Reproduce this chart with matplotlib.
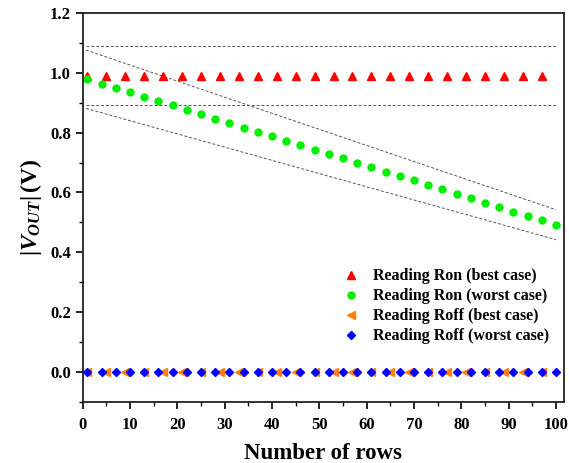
import matplotlib
matplotlib.use("Agg")
import matplotlib.pyplot as plt
from matplotlib.ticker import MultipleLocator

plt.rcParams['font.family'] = 'Liberation Serif'
plt.rcParams['font.weight'] = 'bold'
plt.rcParams['mathtext.fontset'] = 'custom'
plt.rcParams['mathtext.rm'] = 'Liberation Serif:bold'
plt.rcParams['mathtext.it'] = 'Liberation Serif:bold:italic'

# Reading Ron / Roff best case: every 4 rows
rows_best = [1, 5, 9, 13, 17, 21, 25, 29, 33, 37, 41, 45, 49, 53, 57, 61, 65, 69, 73, 77, 81, 85, 89, 93, 97]
ron_best = [0.99] * len(rows_best)
roff_best = [0.0] * len(rows_best)

# Reading Ron / Roff worst case: every 3 rows
rows_worst = [1, 4, 7, 10, 13, 16, 19, 22, 25, 28, 31, 34, 37, 40, 43, 46, 49, 52,
              55, 58, 61, 64, 67, 70, 73, 76, 79, 82, 85, 88, 91, 94, 97, 100]
ron_worst = [0.979, 0.964, 0.950, 0.935, 0.920, 0.905, 0.891, 0.876, 0.861, 0.846,
             0.832, 0.817, 0.802, 0.787, 0.773, 0.758, 0.743, 0.728, 0.714, 0.699,
             0.684, 0.669, 0.654, 0.640, 0.625, 0.610, 0.595, 0.581, 0.566, 0.551,
             0.536, 0.522, 0.507, 0.492]
roff_worst = [0.0] * len(rows_worst)

# guide lines (dashed envelopes)
guide_x = [0.7, 100]
guide_flat_hi = [1.089, 1.089]
guide_flat_lo = [0.891, 0.891]
guide_slope_hi = [1.076, 0.542]
guide_slope_lo = [0.881, 0.442]

fig = plt.figure(figsize=(5.69, 4.63), dpi=100)
ax = fig.add_axes([0.1453, 0.1324, 0.8459, 0.8395])

for gy in (guide_flat_hi, guide_flat_lo, guide_slope_hi, guide_slope_lo):
    ax.plot(guide_x, gy, color='#555555', linestyle=(0, (3, 2)), linewidth=0.7)

ax.plot(rows_best, ron_best, linestyle='none', marker='^', color='red', markersize=5.5,
        label='Reading Ron (best case)')
ax.plot(rows_worst, ron_worst, linestyle='none', marker='o', color='#00ee00', markersize=5,
        label='Reading Ron (worst case)')
ax.plot(rows_best, roff_best, linestyle='none', marker='<', color='#ff7f0e', markersize=5.5,
        label='Reading Roff (best case)')
ax.plot(rows_worst, roff_worst, linestyle='none', marker='D', color='#0000ff', markersize=4.5,
        label='Reading Roff (worst case)')

ax.set_xlim(0, 101.7)
ax.set_ylim(-0.1, 1.2)
ax.xaxis.set_major_locator(MultipleLocator(10))
ax.xaxis.set_minor_locator(MultipleLocator(5))
ax.yaxis.set_major_locator(MultipleLocator(0.2))
ax.yaxis.set_minor_locator(MultipleLocator(0.1))
ax.yaxis.set_major_formatter(matplotlib.ticker.FormatStrFormatter('%.1f'))
ax.tick_params(which='major', direction='out', length=5, width=1.2, labelsize=12)
ax.tick_params(axis='x', which='major', pad=6)
ax.tick_params(which='minor', direction='out', length=3, width=1.0)
for s in ax.spines.values():
    s.set_linewidth(1.3)
    s.set_color('#222222')

ax.set_xlabel('Number of rows', fontsize=16.5, fontweight='bold', labelpad=7)
ax.set_ylabel(r'$|V_{OUT}|\,\mathrm{(V)}$', fontsize=17)

ax.legend(loc='center right', bbox_to_anchor=(1.0, 0.245), frameon=False, fontsize=11.5,
          handletextpad=0.9, labelspacing=0.25, handlelength=1.0)

fig.savefig('out.png', dpi=100)
